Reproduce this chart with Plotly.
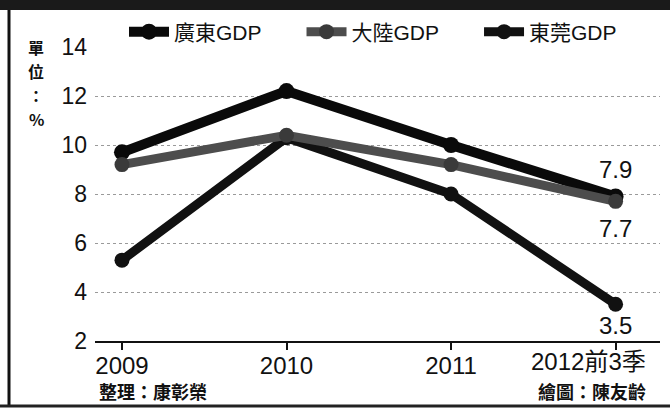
import plotly.graph_objects as go

categories = ["2009", "2010", "2011", "2012前3季"]
guangdong = [9.7, 12.2, 10.0, 7.9]
china = [9.2, 10.4, 9.2, 7.7]
dongguan = [5.3, 10.3, 8.0, 3.5]
y_ticks = [2, 4, 6, 8, 10, 12, 14]
unit_chars = ["單", "位", "：", "%"]

W, H = 670, 409
L, R, T, B = 95, 10, 47, 68
PW, PH = W - L - R, H - T - B

def px(x):
    return (x - L) / PW

def py(y):
    return (H - B - y) / PH

FONT = "Arial, 'Liberation Sans', 'Noto Sans CJK TC', sans-serif"
CJK = "'Noto Sans CJK TC', Arial, sans-serif"
PAD = "\u00a0" * 6

xs = list(range(len(categories)))
fig = go.Figure()

fig.add_trace(go.Scatter(
    x=xs, y=dongguan, name="東莞GDP", mode="lines+markers",
    line=dict(color="#111111", width=9),
    marker=dict(size=15, color="#111111", symbol="circle"),
    legendrank=3))
fig.add_trace(go.Scatter(
    x=xs, y=guangdong, name="廣東GDP" + PAD, mode="lines+markers",
    line=dict(color="#0a0a0a", width=10),
    marker=dict(size=16, color="#0a0a0a"),
    legendrank=1))
fig.add_trace(go.Scatter(
    x=xs, y=china, name="大陸GDP" + PAD, mode="lines+markers",
    line=dict(color="#4d4d4d", width=9),
    marker=dict(size=15, color="#3a3a3a"),
    legendrank=2))

labels = [(guangdong[3], 27, "7.9"), (china[3], -27, "7.7"), (dongguan[3], -21, "3.5")]
for val, shift, txt in labels:
    fig.add_annotation(x=xs[3], y=val, text=txt, showarrow=False, yshift=shift,
                       font=dict(size=24, color="#111111", family=FONT),
                       xanchor="center", yanchor="middle")

# last category label sits left of its tick (right-aligned to the chart edge)
fig.add_annotation(x=xs[3], xref="x", yref="paper", y=py(361), text=categories[3],
                   showarrow=False, xanchor="right", xshift=32, yanchor="middle",
                   font=dict(size=24, color="#111111", family=FONT))

# unit label, stacked vertically
unit_y = [47, 71, 95, 119]
for ch, yy in zip(unit_chars, unit_y):
    fig.add_annotation(xref="paper", yref="paper", x=px(36), y=py(yy),
                       text="<b>%s</b>" % ch, showarrow=False,
                       font=dict(size=16, color="#111111", family=CJK),
                       xanchor="center", yanchor="middle")
# credits
fig.add_annotation(xref="paper", yref="paper", x=px(97), y=py(391),
                   text="<b>整理：康彰榮</b>", showarrow=False,
                   font=dict(size=18, color="#111111", family=CJK),
                   xanchor="left", yanchor="middle")
fig.add_annotation(xref="paper", yref="paper", x=px(648), y=py(391),
                   text="<b>繪圖：陳友齡</b>", showarrow=False,
                   font=dict(size=18, color="#111111", family=CJK),
                   xanchor="right", yanchor="middle")

# frame (scanned border)
fig.add_shape(type="rect", xref="paper", yref="paper", x0=px(0), x1=px(670),
              y0=py(10), y1=py(0), fillcolor="#1a1a1a", line_width=0, layer="above")
fig.add_shape(type="line", xref="paper", yref="paper", x0=px(9), x1=px(9),
              y0=py(10), y1=py(406), line=dict(color="#111111", width=3), layer="above")
fig.add_shape(type="line", xref="paper", yref="paper", x0=px(0), x1=px(670),
              y0=py(406), y1=py(406), line=dict(color="#222222", width=3), layer="above")

fig.update_xaxes(
    range=[-0.164, 3.27], tickmode="array", tickvals=xs,
    ticktext=categories[:3] + [""],
    showgrid=False, zeroline=False, showline=True, linecolor="#111111", linewidth=2,
    ticks="outside", ticklen=7, tickwidth=2, tickcolor="#111111",
    ticklabelstandoff=-5,
    tickfont=dict(size=24, color="#111111", family=FONT))
fig.update_yaxes(
    range=[2, 14], tickmode="array", tickvals=y_ticks,
    showgrid=True, gridcolor="#9a9a9a", griddash="dot", gridwidth=1,
    zeroline=False, showline=False, ticks="", ticklabelstandoff=7,
    tickfont=dict(size=23, color="#111111", family=FONT))

fig.update_layout(
    width=W, height=H, margin=dict(l=L, r=R, t=T, b=B),
    paper_bgcolor="white", plot_bgcolor="white",
    showlegend=True,
    legend=dict(orientation="h", x=px(124), y=py(32), xanchor="left", yanchor="middle",
                font=dict(size=21, color="#111111", family=FONT),
                bgcolor="rgba(0,0,0,0)", itemwidth=40, tracegroupgap=0),
)

fig.write_html("out.html")
